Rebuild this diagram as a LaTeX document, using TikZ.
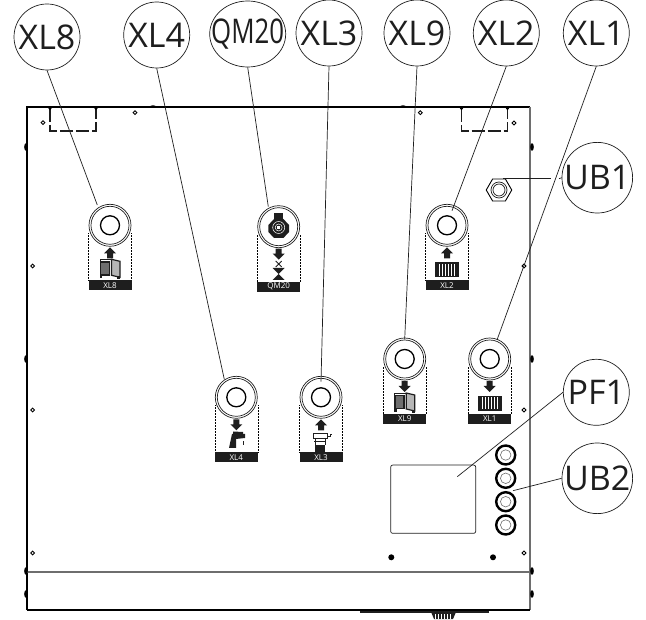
\documentclass[tikz,border=0pt]{standalone}
\usepackage{graphicx}
\usepackage{fontspec}
\setmainfont{Open Sans}
\usetikzlibrary{shapes.geometric}

\definecolor{inkblack}{HTML}{1E1E1E}
\definecolor{panelgray}{HTML}{6E6E6E}

\tikzset{
  call node/.style={circle,draw=inkblack,line width=0.7pt,inner sep=0pt,minimum size=66pt,font=\fontsize{34}{34}\selectfont,text=inkblack},
  port node/.style={circle,draw=inkblack,line width=0.7pt,inner sep=0pt,minimum size=42pt},
  lead/.style={draw=inkblack,line width=0.7pt},
  bar node/.style={fill=inkblack,text=white,inner sep=0pt,minimum width=43pt,minimum height=10pt,font=\fontsize{8}{8}\selectfont},
  dot mark/.style={circle,draw=black,line width=0.9pt,inner sep=0pt,minimum size=3.8pt},
  grommet/.style={circle,draw=black,line width=2.4pt,inner sep=0pt,minimum size=19pt},
  grommet in/.style={circle,draw=panelgray,line width=0.6pt,inner sep=0pt,minimum size=10.5pt}
}

% port with ring, hole, dotted frame and black label bar
\newcommand{\portnode}[4]{
  \node[port node] (#1) at (#2,#3) {};
  \draw[inkblack,line width=0.7pt] (#2,#3) circle (19pt);
  \draw[densely dotted,line width=0.5pt] (#2-21.5,#3+55) -- ++(0,-47) (#2+21.5,#3+55) -- ++(0,-47);
  \node[bar node] (#1 bar) at (#2,#3+60) {#4};
}
\newcommand{\holemark}[2]{\draw[black,line width=1.3pt] (#1,#2) circle (9.5pt);}
\newcommand{\arrowup}[2]{\fill[inkblack] (#1,#2+22) -- (#1+6,#2+28) -- (#1+3,#2+28) -- (#1+3,#2+33) -- (#1-3,#2+33) -- (#1-3,#2+28) -- (#1-6,#2+28) -- cycle;}
\newcommand{\arrowdown}[2]{\fill[inkblack] (#1,#2+33) -- (#1+6,#2+27) -- (#1+3,#2+27) -- (#1+3,#2+22) -- (#1-3,#2+22) -- (#1-3,#2+27) -- (#1-6,#2+27) -- cycle;}
\newcommand{\unitmark}[2]{
  \draw[inkblack,line width=1.5pt,fill=panelgray] (#1-9.5,#2+36.5) rectangle (#1-0.5,#2+49.5);
  \draw[inkblack,line width=1.2pt,fill=panelgray!50] (#1+1.5,#2+34) -- (#1+10,#2+36) -- (#1+10,#2+52) -- (#1+1.5,#2+50) -- cycle;
  \draw[inkblack,line width=0.7pt] (#1-10,#2+36) -- (#1-10,#2+34) -- (#1+1.5,#2+34);
  \fill[inkblack] (#1-10.5,#2+50) rectangle (#1-8,#2+53);
  \fill[inkblack] (#1+7,#2+51) rectangle (#1+10,#2+54);
}
\newcommand{\radmark}[2]{
  \fill[inkblack] (#1-12,#2+37) rectangle (#1+12,#2+52);
  \foreach \k in {-8,-5,-2,1,4,7}
    \fill[white] (#1+\k,#2+38.5) rectangle ++(1.2,12);
}

\begin{document}
\begin{tikzpicture}[x=1pt,y=-1pt]
  \useasboundingbox (0,0) rectangle (646,620);
  % cabinet
  \draw[black,line width=1.5pt] (27,610) -- (27,107) -- (530,107);
  \draw[panelgray,line width=2pt] (530,107) -- (530,610);
  \draw[black,line width=1.3pt] (27,610) -- (530,610);
  \draw[panelgray,line width=1.2pt] (27,572) -- (530,572);
  \draw[inkblack,line width=1.1pt] (360,612) -- (489,612);
  \fill[inkblack] (431,612) -- (456,612) -- (453,619) -- (434,619) -- cycle;
  \foreach \xa in {435,438,441,444,447,450}
    \draw[white,line width=0.5pt] (\xa,614) -- (\xa,619);
  \foreach \ya in {147,359,571,594} {
    \fill[black] (26,\ya) ellipse (1.8pt and 3.8pt);
    \fill[black] (532,\ya) ellipse (1.8pt and 3.8pt);
  }
  \fill[black] (153,106.5) ellipse (3pt and 1.2pt);
  \fill[black] (403,106.5) ellipse (3pt and 1.2pt);
  \draw[inkblack,line width=1.2pt,dash pattern=on 13pt off 3pt] (50,109) -- (50,131) -- (96,131) -- (96,109);
  \draw[inkblack,line width=1.2pt,dash pattern=on 13pt off 3pt] (461.5,109) -- (461.5,131) -- (507.5,131) -- (507.5,109);
  \foreach \xa/\ya in {50/108.5,96/108.5,461.5/108.5,507.5/108.5}
    \fill[black] (\xa,\ya) circle (1.6pt);
  \foreach \xa/\ya in {43/122.7,135/112.7,32.7/266,32.7/410,32.7/553,420.3/112.7,514/123,524/266,524/410,524/553}
    \node[dot mark] at (\xa,\ya) {};
  \fill[black] (391.3,557.3) circle (3pt);
  \fill[black] (493,557.3) circle (3pt);

  % ports
  \portnode{port8}{110}{225.3}{XL8}
  \portnode{port20}{278.7}{226.7}{QM20}
  \portnode{port2}{447}{225.3}{XL2}
  \portnode{port4}{236.3}{397.3}{XL4}
  \portnode{port3}{321}{397.3}{XL3}
  \portnode{port9}{404.7}{359}{XL9}
  \portnode{port1}{489.7}{359}{XL1}
  \holemark{110}{225.3}
  \holemark{447}{225.3}
  \holemark{236.3}{397.3}
  \holemark{321}{397.3}
  \holemark{404.7}{359}
  \holemark{489.7}{359}

  % symbols
  \arrowup{110}{225.3}
  \unitmark{110}{225.3}
  \arrowdown{404.7}{359}
  \unitmark{404.7}{359}
  \arrowup{447}{225.3}
  \radmark{447}{225.3}
  \arrowdown{489.7}{359}
  \radmark{489.7}{359}
  \arrowdown{278.7}{226.7}
  \draw[inkblack,line width=0.8pt] (275.7,261) -- (281.7,267) (281.7,261) -- (275.7,267);
  \fill[inkblack] (272.7,268) -- (284.7,268) -- (272.7,280) -- (284.7,280) -- cycle;
  \fill[inkblack] (274,219) -- (283.4,219) -- (289,225) -- (289,232) -- (283.4,238) -- (274,238) -- (268.4,232) -- (268.4,225) -- cycle;
  \fill[inkblack] (274,213) rectangle (283.4,219);
  \draw[white,line width=0.5pt] (278.7,227.5) circle (6pt) (278.7,227.5) circle (3.5pt);
  \fill[white] (277.4,226.2) rectangle (280,228.8);
  \arrowdown{236.3}{397.3}
  \fill[inkblack] (229,448) -- (232,434) -- (245,434) -- (245,438) -- (236,439) -- (236,448) -- cycle;
  \fill[inkblack] (233,431.5) -- (243,432) -- (243,434) -- (233,434) -- cycle;
  \fill[inkblack] (242.5,441) rectangle (244,445);
  \arrowup{321}{397.3}
  \draw[inkblack,line width=0.7pt] (313,433) rectangle (327,438);
  \draw[inkblack,line width=0.7pt] (327,436) -- (330,436) -- (330,434) -- (332,434);
  \draw[inkblack,line width=0.9pt] (315,438) -- (315,445) (325,438) -- (325,445) (314,441) -- (326,441);
  \fill[inkblack] (315,445) rectangle (325,452);

  % drain and cable entries
  \node[regular polygon,regular polygon sides=6,draw=black,line width=0.9pt,inner sep=0pt,minimum size=25.5pt] (hexnut) at (499,190) {};
  \draw[inkblack,line width=0.7pt] (499,190) circle (8pt) (499,190) circle (6pt);
  \foreach \ya/\name in {455/a,478.3/b,501.7/c,525/d} {
    \node[grommet] (grom\name) at (505.7,\ya) {};
    \node[grommet in] at (505.7,\ya) {};
  }
  \node[draw=inkblack,line width=0.7pt,rounded corners=2pt,minimum width=85pt,minimum height=68.3pt,inner sep=0pt] (plate) at (433.2,499.2) {};

  % callouts
  \node[call node] (XL8) at (47,37) {XL8};
  \node[call node] (XL4) at (156.7,35) {XL4};
  \node[call node,ellipse,minimum width=76pt,minimum height=66pt,label={[font=\fontsize{34}{34}\selectfont,text=inkblack]center:\scalebox{.76}[1]{QM20}}] (QM20) at (247.7,34) {};
  \node[call node] (XL3) at (329,33) {XL3};
  \node[call node] (XL9) at (417,33) {XL9};
  \node[call node] (XL2) at (506.3,33) {XL2};
  \node[call node] (XL1) at (596.3,33) {XL1};
  \node[call node] (UB1) at (597.3,177.7) {UB1};
  \node[call node] (PF1) at (596.3,392.3) {PF1};
  \node[call node] (UB2) at (597.3,478.3) {UB2};

  % lead ends
  \coordinate (end8) at (97.3,205);
  \coordinate (end4) at (224.3,379.3);
  \coordinate (end20) at (268.3,206.7);
  \coordinate (end3) at (321,381.7);
  \coordinate (end9) at (404.7,339.3);
  \coordinate (end2) at (452,210.7);
  \coordinate (end1) at (497,340);
  \coordinate (endhex) at (503,178.7);
  \coordinate (gapa) at (551.3,178.7);
  \coordinate (gapb) at (559,178.7);
  \coordinate (endplate) at (457.3,476.7);
  \coordinate (endgrom) at (513,490.7);
  \path[lead]
    (XL8.south) edge (end8)
    (XL4.south) edge (end4)
    (QM20.south) edge (end20)
    (XL3.south) edge (end3)
    (XL9.south) edge (end9)
    (XL2.south) edge (end2)
    (XL1.south) edge (end1)
    (endhex) edge (gapa)
    (gapb) edge (UB1.west)
    (PF1.west) edge (endplate)
    (UB2.west) edge (endgrom);
\end{tikzpicture}
\end{document}
